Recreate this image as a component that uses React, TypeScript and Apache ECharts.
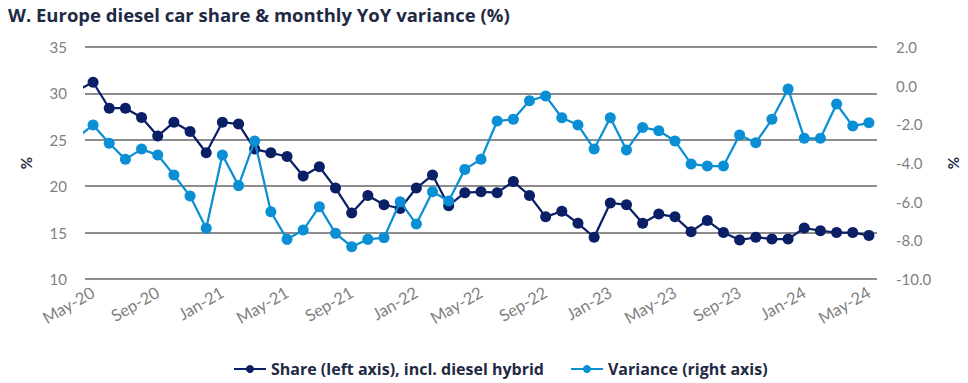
import React, { useEffect, useRef } from "react";
import * as echarts from "echarts";

const months: string[] = [
  "May-20","Jun-20","Jul-20","Aug-20","Sep-20","Oct-20","Nov-20","Dec-20",
  "Jan-21","Feb-21","Mar-21","Apr-21","May-21","Jun-21","Jul-21","Aug-21","Sep-21","Oct-21","Nov-21","Dec-21",
  "Jan-22","Feb-22","Mar-22","Apr-22","May-22","Jun-22","Jul-22","Aug-22","Sep-22","Oct-22","Nov-22","Dec-22",
  "Jan-23","Feb-23","Mar-23","Apr-23","May-23","Jun-23","Jul-23","Aug-23","Sep-23","Oct-23","Nov-23","Dec-23",
  "Jan-24","Feb-24","Mar-24","Apr-24","May-24",
];

// Apr-20 values (just before the visible range; only a clipped stub shows)
const shareApr20 = 30.3;
const varianceApr20 = -2.7;

const share: number[] = [
  31.2, 28.4, 28.4, 27.4, 25.4, 26.9, 25.9, 23.6,
  26.9, 26.7, 24.0, 23.6, 23.2, 21.1, 22.1, 19.8, 17.1, 19.0, 18.0, 17.6,
  19.8, 21.2, 17.9, 19.3, 19.4, 19.3, 20.5, 19.0, 16.7, 17.3, 16.0, 14.5,
  18.2, 18.0, 16.0, 17.0, 16.7, 15.1, 16.3, 15.0, 14.2, 14.5, 14.3, 14.3,
  15.5, 15.2, 15.0, 15.0, 14.7,
];

const variance: number[] = [
  -2.03, -2.98, -3.81, -3.28, -3.59, -4.62, -5.71, -7.38,
  -3.59, -5.17, -2.86, -6.52, -7.95, -7.47, -6.26, -7.64, -8.33, -7.95, -7.86, -6.0,
  -7.16, -5.49, -5.97, -4.33, -3.81, -1.83, -1.74, -0.78, -0.53, -1.66, -2.03, -3.28,
  -1.66, -3.33, -2.16, -2.33, -2.86, -4.05, -4.16, -4.16, -2.55, -2.95, -1.74, -0.17,
  -2.72, -2.72, -0.95, -2.09, -1.92,
];

const TITLE = "W. Europe diesel car share & monthly YoY variance (%)";
const SHARE_NAME = "Share (left axis), incl. diesel hybrid";
const VAR_NAME = "Variance (right axis)";

const NAVY = "#0b1f66";
const LIGHT = "#0a8fd5";
const GRAY = "#7f7f7f";
const FONT = "Lato";
const BOLD_FONT = "Open Sans";

export default function App() {
  const ref = useRef<HTMLDivElement>(null);

  useEffect(() => {
    if (!ref.current) return;
    const chart = echarts.init(ref.current, null, { renderer: "svg" });

    const shareData = [[-1, shareApr20], ...share.map((v, i) => [i, v])];
    const varData = [[-1, varianceApr20], ...variance.map((v, i) => [i, v])];

    chart.setOption({
      animation: false,
      backgroundColor: "#ffffff",
      title: {
        text: TITLE,
        left: 3,
        top: 0,
        textStyle: { fontFamily: BOLD_FONT, fontWeight: "bold", fontSize: 18.5, color: "#1f2a44" },
      },
      grid: { left: 85, right: 86, top: 47, bottom: 104, containLabel: false },
      legend: {
        left: 228,
        bottom: 1,
        itemWidth: 32,
        itemHeight: 10,
        itemGap: 26,
        textStyle: { fontFamily: BOLD_FONT, fontWeight: "bold", fontSize: 16, color: "#1f2a44" },
        data: [SHARE_NAME, VAR_NAME],
      },
      xAxis: [
        {
          type: "category",
          data: months,
          boundaryGap: true,
          axisLine: { show: false },
          axisTick: { show: false },
          axisLabel: {
            interval: 3,
            rotate: 30,
            color: GRAY,
            fontFamily: FONT,
            fontSize: 16.5,
            margin: 12,
          },
        },
        {
          type: "value",
          min: -0.5,
          max: 48.5,
          show: false,
        },
      ],
      yAxis: [
        {
          type: "value",
          min: 10,
          max: 35,
          interval: 5,
          name: "%",
          nameLocation: "middle",
          nameGap: 52,
          nameTextStyle: { color: "#1f2a44", fontFamily: FONT, fontWeight: "bold", fontSize: 15 },
          axisLine: { show: false },
          axisTick: { show: false },
          axisLabel: { color: GRAY, fontFamily: FONT, fontSize: 15, margin: 18 },
          splitLine: { lineStyle: { color: "#8c8c8c", width: 2 } },
        },
        {
          type: "value",
          min: -10,
          max: 2,
          interval: 2,
          position: "right",
          name: "%",
          nameLocation: "middle",
          nameGap: 68,
          nameTextStyle: { color: "#1f2a44", fontFamily: FONT, fontWeight: "bold", fontSize: 15 },
          axisLine: { show: false },
          axisTick: { show: false },
          axisLabel: {
            color: GRAY,
            fontFamily: FONT,
            fontSize: 15,
            margin: 19,
            formatter: (v: number) => v.toFixed(1),
          },
          splitLine: { show: false },
        },
      ],
      series: [
        {
          name: SHARE_NAME,
          type: "line",
          xAxisIndex: 1,
          yAxisIndex: 0,
          data: shareData,
          clip: true,
          symbol: "circle",
          symbolSize: 11,
          color: NAVY,
          lineStyle: { color: NAVY, width: 2.25 },
          itemStyle: { color: NAVY },
          z: 2,
        },
        {
          name: VAR_NAME,
          type: "line",
          xAxisIndex: 1,
          yAxisIndex: 1,
          data: varData,
          clip: true,
          symbol: "circle",
          symbolSize: 11,
          color: LIGHT,
          lineStyle: { color: LIGHT, width: 2.25 },
          itemStyle: { color: LIGHT },
          z: 3,
        },
      ],
    });

    return () => chart.dispose();
  }, []);

  return (
    <div
      ref={ref}
      style={{ position: "fixed", left: 0, top: 0, width: 968, height: 383, background: "#fff" }}
    />
  );
}
